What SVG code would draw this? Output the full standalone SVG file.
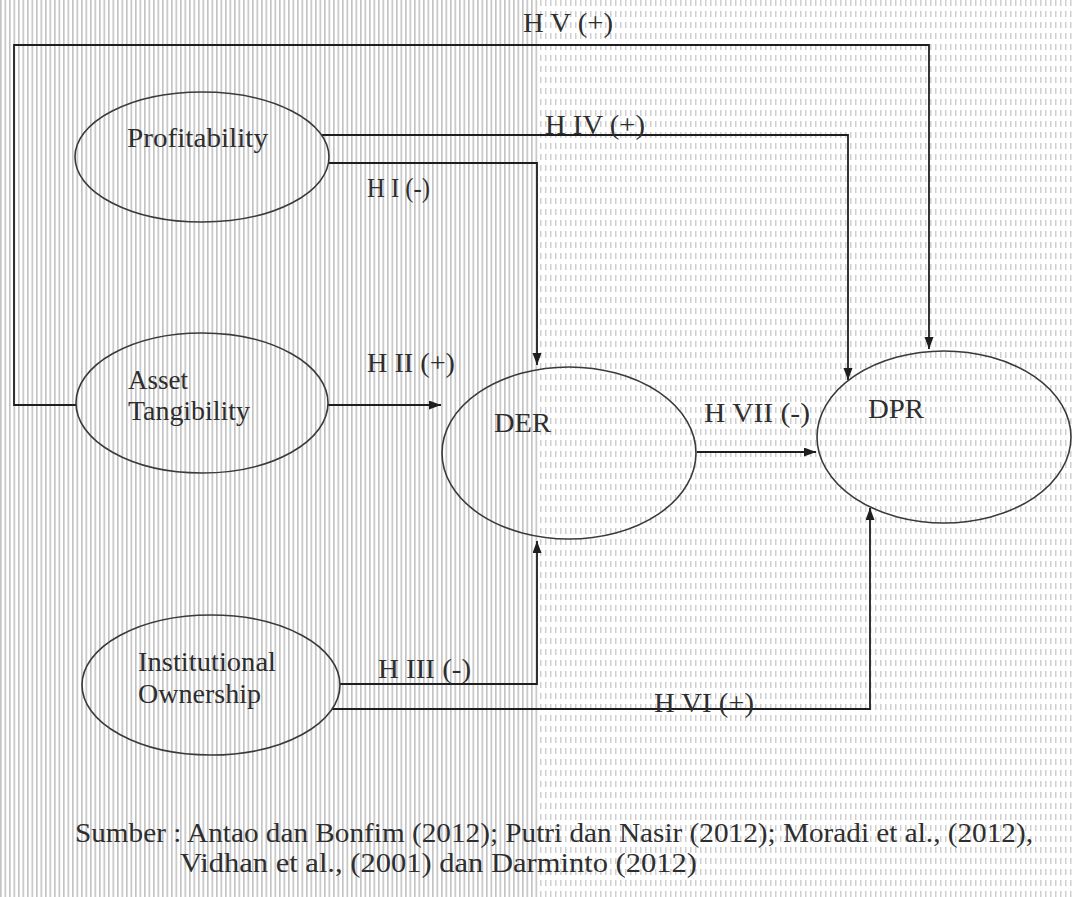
<svg xmlns="http://www.w3.org/2000/svg" width="1073" height="897" viewBox="0 0 1073 897">
  <defs>
    <pattern id="stripesA" x="0" y="0" width="4.5" height="10" patternUnits="userSpaceOnUse">
      <rect x="0" y="0" width="1.6" height="10" fill="#c2c2c2"/>
    </pattern>
    <pattern id="stripesB" x="0" y="0" width="5" height="11" patternUnits="userSpaceOnUse">
      <rect x="0" y="0" width="1.5" height="6" fill="#cfcfcf"/>
    </pattern>
    <marker id="arrow" markerWidth="13" markerHeight="10" refX="12" refY="4.5" orient="auto" markerUnits="userSpaceOnUse">
      <path d="M0,0 L12,4.5 L0,9 z" fill="#1e1e1e"/>
    </marker>
    <style>
      .node ellipse { fill: none; stroke: #3a3a3a; stroke-width: 1.6; }
      .lbl { font-family: 'Liberation Serif', 'DejaVu Serif', serif; font-size: 28px; fill: #2e2e2e; }
      .conn path { fill: none; stroke: #1e1e1e; stroke-width: 1.8; }
      .cap { font-family: 'Liberation Serif', 'DejaVu Serif', serif; font-size: 27px; fill: #2e2e2e; }
    </style>
  </defs>

  <rect x="0" y="0" width="1073" height="897" fill="#ffffff"/>
  <rect x="0" y="0" width="540" height="897" fill="url(#stripesA)"/>
  <rect x="540" y="0" width="533" height="897" fill="url(#stripesB)"/>

  <g id="connectors" class="conn">
    <path id="hv" d="M76,405 H14 V45 H929 V349" marker-end="url(#arrow)"/>
    <path id="hiv" d="M322,135 H848 V380" marker-end="url(#arrow)"/>
    <path id="hi" d="M328,163 H537 V365" marker-end="url(#arrow)"/>
    <path id="hii" d="M328,405 H441" marker-end="url(#arrow)"/>
    <path id="hvii" d="M697,452 H816" marker-end="url(#arrow)"/>
    <path id="hiii" d="M340,684 H537 V541" marker-end="url(#arrow)"/>
    <path id="hvi" d="M332,709 H870 V508" marker-end="url(#arrow)"/>
  </g>

  <g id="edge-labels">
    <text class="lbl" x="523" y="32" textLength="90" lengthAdjust="spacingAndGlyphs">H V (+)</text>
    <text class="lbl" x="545" y="134" textLength="100" lengthAdjust="spacingAndGlyphs">H IV (+)</text>
    <text class="lbl" x="367" y="197" textLength="63" lengthAdjust="spacingAndGlyphs">H I (-)</text>
    <text class="lbl" x="367" y="372" textLength="88" lengthAdjust="spacingAndGlyphs">H II (+)</text>
    <text class="lbl" x="704" y="422" textLength="106" lengthAdjust="spacingAndGlyphs">H VII (-)</text>
    <text class="lbl" x="378" y="678" textLength="93" lengthAdjust="spacingAndGlyphs">H III (-)</text>
    <text class="lbl" x="654" y="712" textLength="100" lengthAdjust="spacingAndGlyphs">H VI (+)</text>
  </g>

  <g id="node-profitability" class="node">
    <ellipse cx="202" cy="157" rx="127" ry="65"/>
    <text class="lbl" x="127" y="147" textLength="141" lengthAdjust="spacingAndGlyphs">Profitability</text>
  </g>

  <g id="node-asset-tangibility" class="node">
    <ellipse cx="202" cy="403" rx="126" ry="70"/>
    <text class="lbl" x="128" y="389" textLength="60" lengthAdjust="spacingAndGlyphs">Asset</text>
    <text class="lbl" x="128" y="420" textLength="122" lengthAdjust="spacingAndGlyphs">Tangibility</text>
  </g>

  <g id="node-institutional-ownership" class="node">
    <ellipse cx="211" cy="685" rx="129" ry="70"/>
    <text class="lbl" x="138" y="671" textLength="138" lengthAdjust="spacingAndGlyphs">Institutional</text>
    <text class="lbl" x="138" y="703" textLength="123" lengthAdjust="spacingAndGlyphs">Ownership</text>
  </g>

  <g id="node-der" class="node">
    <ellipse cx="569" cy="453" rx="127" ry="86"/>
    <text class="lbl" x="494" y="432" textLength="57" lengthAdjust="spacingAndGlyphs">DER</text>
  </g>

  <g id="node-dpr" class="node">
    <ellipse cx="944" cy="437" rx="127" ry="86"/>
    <text class="lbl" x="868" y="418" textLength="56" lengthAdjust="spacingAndGlyphs">DPR</text>
  </g>

  <g id="caption">
    <text class="cap" x="75" y="842" textLength="958" lengthAdjust="spacingAndGlyphs">Sumber : Antao dan Bonfim (2012); Putri dan Nasir (2012); Moradi et al., (2012),</text>
    <text class="cap" x="180" y="872" textLength="517" lengthAdjust="spacingAndGlyphs">Vidhan et al., (2001)  dan Darminto (2012)</text>
  </g>
</svg>
